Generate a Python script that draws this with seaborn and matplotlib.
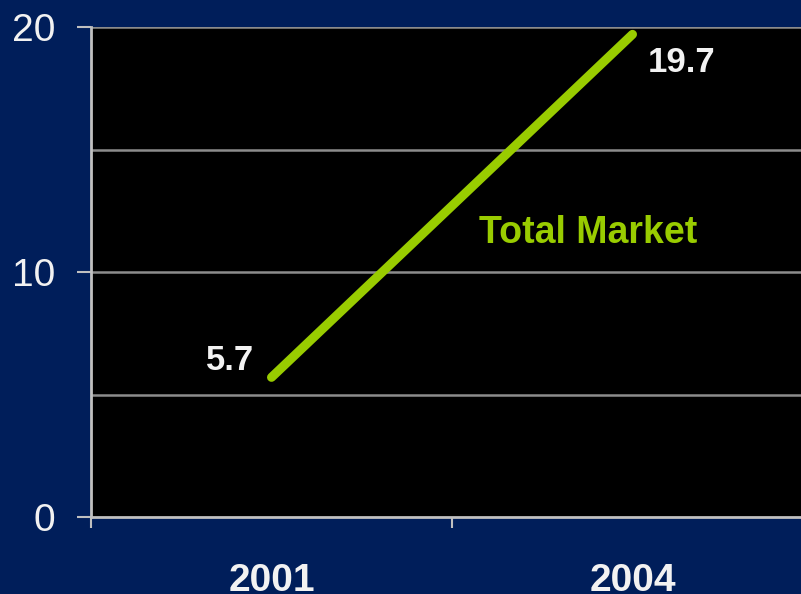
import matplotlib
matplotlib.use("Agg")
import matplotlib.pyplot as plt
import seaborn as sns
import pandas as pd

# Market size by year
years = ["2001", "2004"]
market = [5.7, 19.7]
series_label = "Total Market"
y_ticks = [0, 10, 20]
y_grid = [5, 10, 15, 20]

NAVY = "#001E5A"
GREEN = "#99CC00"
GRID = "#8C8C8C"
SPINE = "#C0C0C0"
TEXT = "#F2F2F2"

sns.set_theme(style="dark")
plt.rcParams["font.family"] = ["Liberation Sans", "DejaVu Sans"]

fig = plt.figure(figsize=(8.01, 5.94), dpi=100, facecolor=NAVY)
ax = fig.add_axes([91 / 801, 77 / 594, (813 - 91) / 801, 490 / 594])
ax.set_facecolor("black")

df = pd.DataFrame({"year": years, "value": market})
sns.lineplot(data=df, x="year", y="value", ax=ax, color=GREEN,
             linewidth=6.5, solid_capstyle="round", zorder=3)

ax.set_xlim(-0.5, 1.5)
ax.set_ylim(0, 20)

# horizontal grid lines
for g in y_grid:
    ax.axhline(g, color=GRID, linewidth=1.8, zorder=1)

# y axis
ax.set_yticks(y_ticks)
ax.set_yticklabels([str(t) for t in y_ticks], fontsize=28, color=TEXT)
ax.tick_params(axis="y", which="major", left=True, length=10, width=1.5,
               color=SPINE, pad=16)

# x axis: boundary ticks as major, year labels on minor ticks
ax.set_xticks([-0.5, 0.5, 1.5])
ax.set_xticklabels(["", "", ""])
ax.set_xticks([0, 1], minor=True)
ax.set_xticklabels(years, minor=True, fontsize=28, fontweight="bold", color=TEXT)
ax.tick_params(axis="x", which="major", bottom=True, length=8, width=1.5, color=SPINE)
ax.tick_params(axis="x", which="minor", bottom=False, length=0, pad=33)

ax.set_xlabel("")
ax.set_ylabel("")
ax.grid(False)

for side in ["top", "right"]:
    ax.spines[side].set_visible(False)
for side in ["left", "bottom"]:
    ax.spines[side].set_visible(True)
    ax.spines[side].set_color(SPINE)
    ax.spines[side].set_linewidth(2)

# value labels
ax.annotate(f"{market[0]}", xy=(0, market[0]), xytext=(-30, 12),
            textcoords="offset points", ha="center", va="center",
            fontsize=25, fontweight="bold", color=TEXT)
ax.annotate(f"{market[1]}", xy=(1, market[1]), xytext=(35, -20),
            textcoords="offset points", ha="center", va="center",
            fontsize=25, fontweight="bold", color=TEXT)
ax.text(0.877, 11.6, series_label, ha="center", va="center",
        fontsize=27, fontweight="bold", color=GREEN)

fig.savefig("out.png", dpi=100, facecolor=NAVY)
